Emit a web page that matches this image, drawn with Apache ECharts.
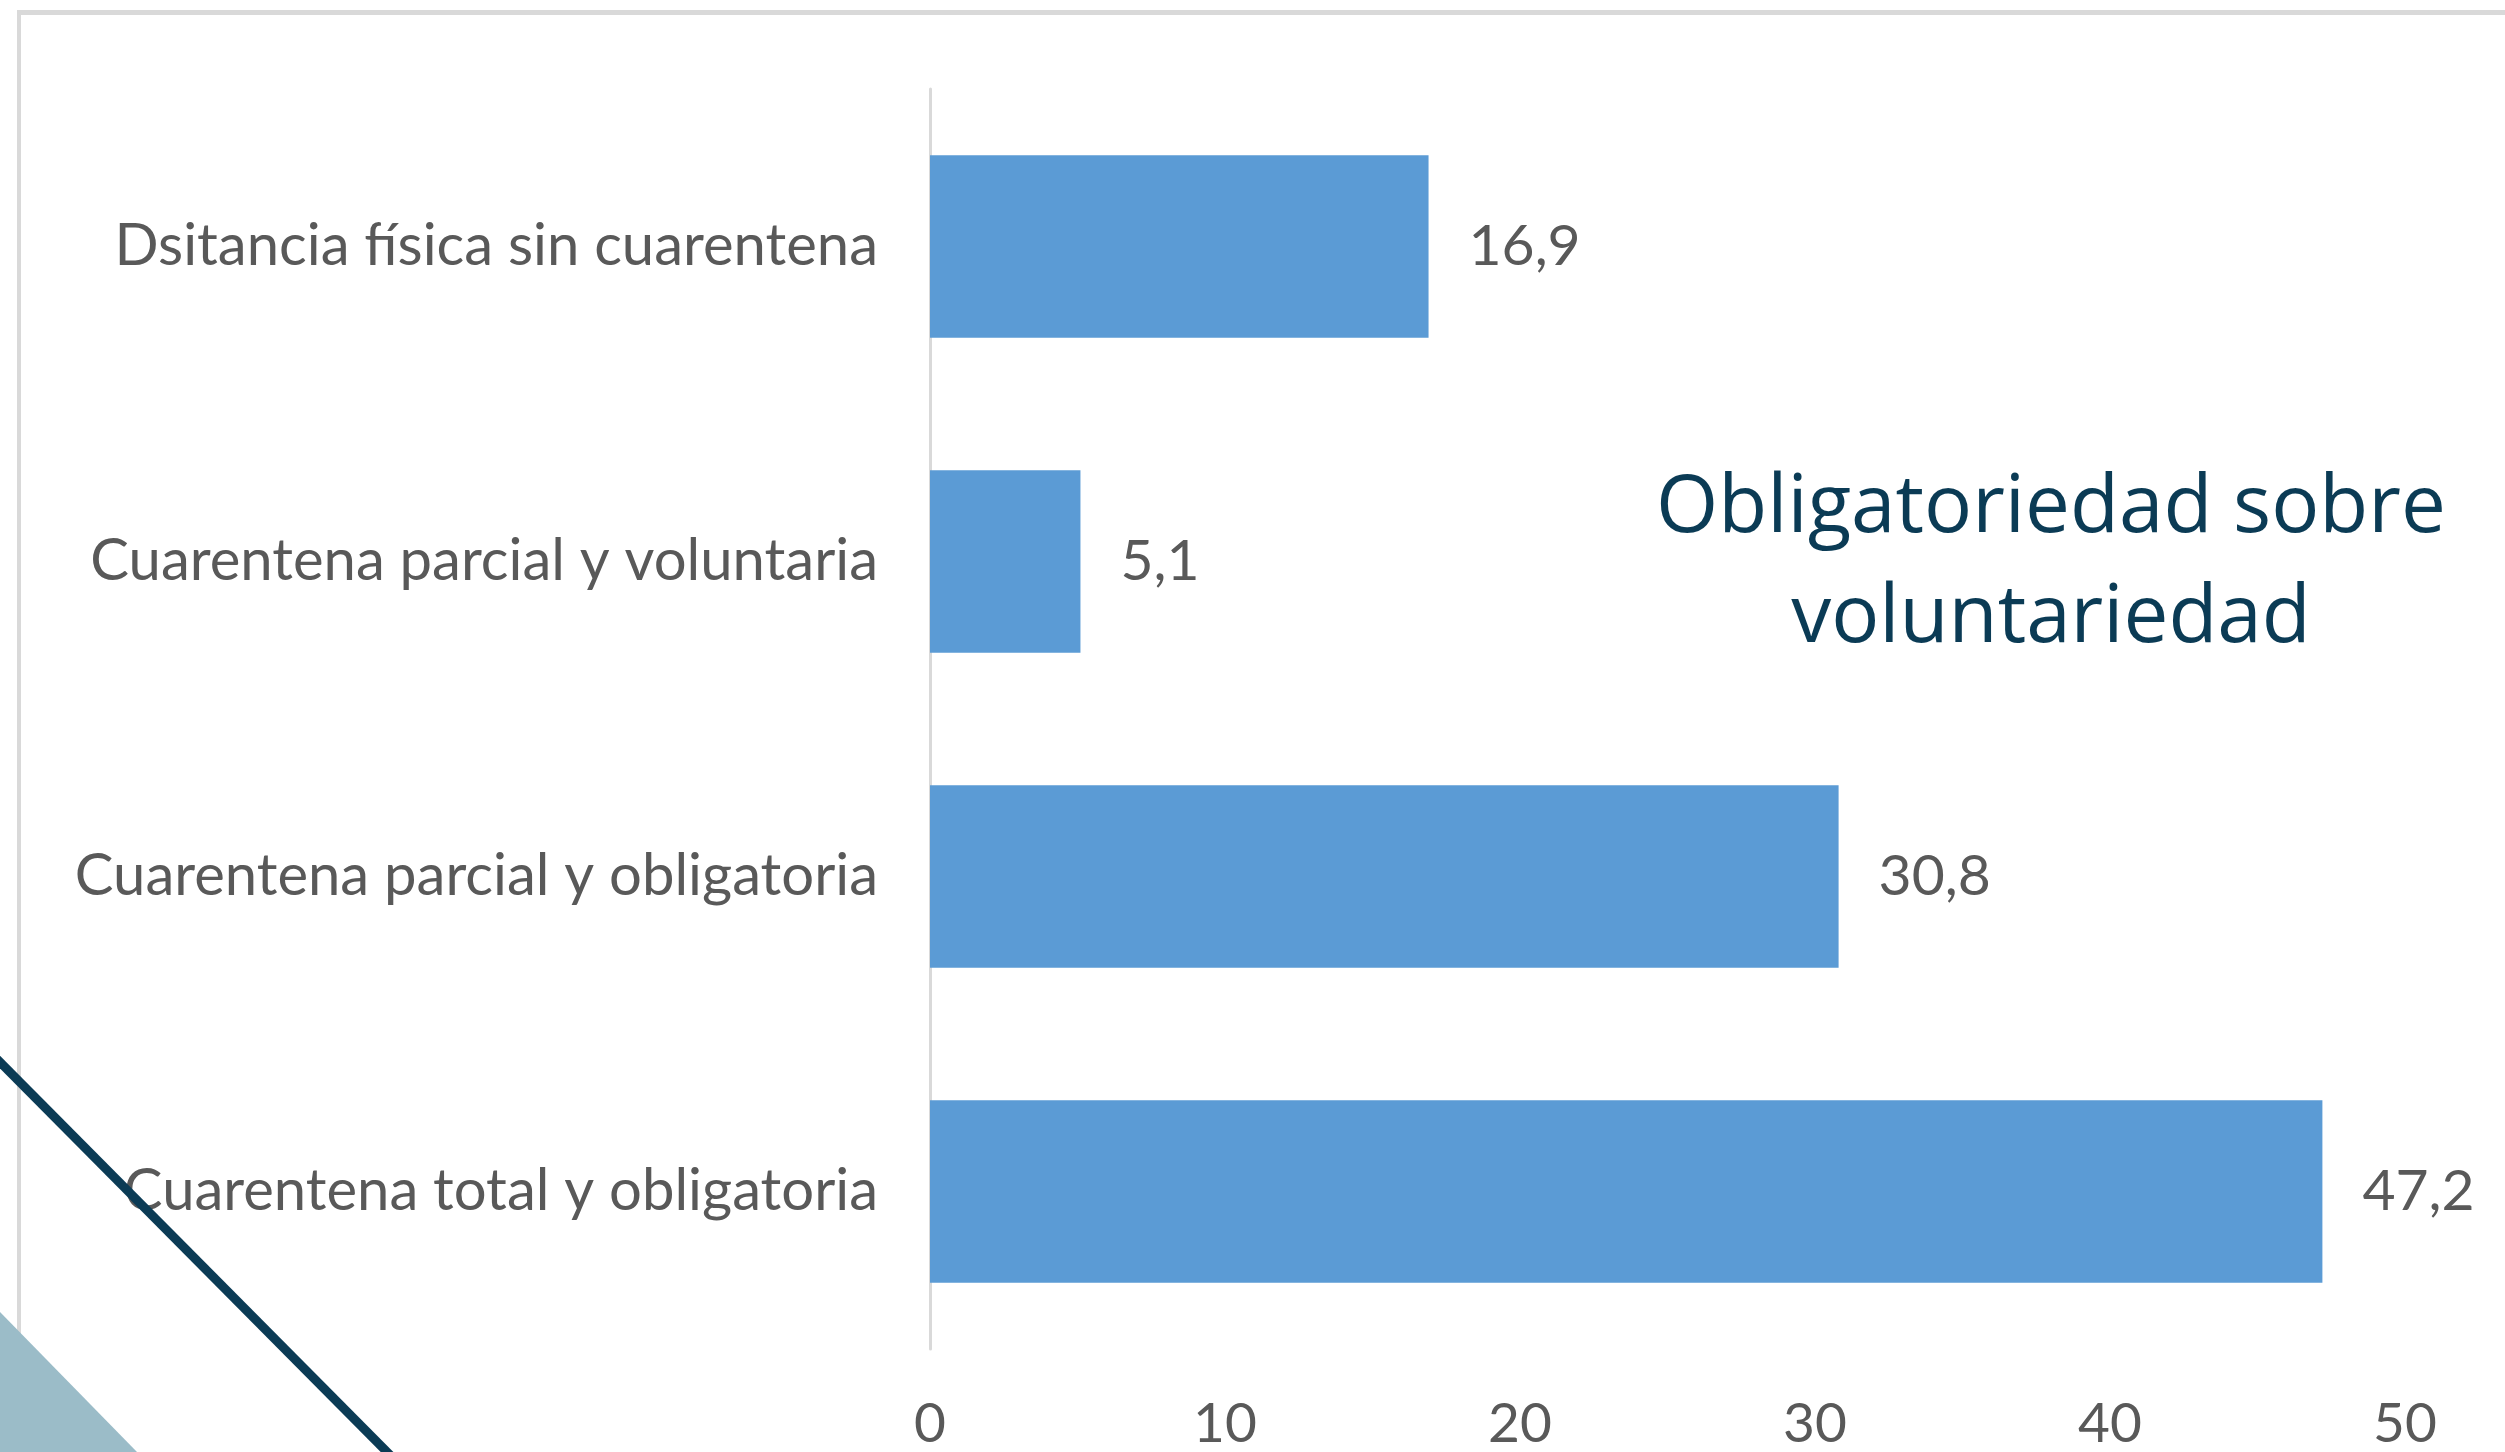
<!DOCTYPE html>
<html lang="es">
<head>
    <meta charset="UTF-8">
    <title>Obligatoriedad sobre voluntariedad</title>
    <script src="https://cdn.jsdelivr.net/npm/echarts@6/dist/echarts.min.js"></script>
    <style>
        html, body { margin: 0; padding: 0; background: #fff; }
    </style>
</head>
<body>
    <div id="main" style="width: 2505px; height: 1452px;"></div>
    <script>
    // categorias de arriba hacia abajo
    const categorias = [
        'Dsitancia física sin cuarentena',
        'Cuarentena parcial y voluntaria',
        'Cuarentena parcial y obligatoria',
        'Cuarentena total y obligatoria'
    ]
    const valores = [16.9, 5.1, 30.8, 47.2]
    const ticks = [0, 10, 20, 30, 40, 50]

    const gris = '#595959'
    const azulOscuro = '#0b3b55'

    const chart = echarts.init(document.getElementById('main'))
    const option = {
        backgroundColor: '#fff',
        animation: false,
        textStyle: { fontFamily: 'Lato' },
        grid: { left: 930, right: 100, top: 89, bottom: 102, containLabel: false },
        xAxis: {
            type: 'value',
            min: ticks[0],
            max: ticks[ticks.length - 1],
            interval: 10,
            axisLine: { show: false },
            axisTick: { show: false },
            splitLine: { show: false },
            axisLabel: { color: gris, fontSize: 55, margin: 48 }
        },
        yAxis: {
            type: 'category',
            inverse: true,
            data: categorias,
            axisLine: { show: true, lineStyle: { color: '#d9d9d9', width: 3 } },
            axisTick: { show: false },
            axisLabel: { color: gris, fontSize: 58, margin: 52 }
        },
        series: [{
            type: 'bar',
            data: valores,
            barCategoryGap: '42%',
            itemStyle: { color: '#5b9bd5' },
            label: {
                show: true,
                position: 'right',
                distance: 40,
                color: gris,
                fontSize: 57,
                formatter: function (p) {
                    return String(p.value).replace('.', ',')
                }
            }
        }],
        graphic: [
            // marco gris
            { type: 'rect', z: 1, shape: { x: 17, y: 10, width: 2488, height: 5 }, style: { fill: '#d9d9d9' } },
            { type: 'rect', z: 1, shape: { x: 17, y: 10, width: 4, height: 1442 }, style: { fill: '#d9d9d9' } },
            // triangulo inferior
            { type: 'polygon', z: 100, shape: { points: [[0, 1312], [137, 1452], [0, 1452]] }, style: { fill: '#9bbcc8' } },
            // linea diagonal
            { type: 'line', z: 100, shape: { x1: -5, y1: 1057, x2: 392, y2: 1457 }, style: { stroke: azulOscuro, lineWidth: 9 } },
            // texto
            {
                type: 'text', z: 100, x: 2051, y: 454,
                style: {
                    text: 'Obligatoriedad sobre\nvoluntariedad',
                    align: 'center',
                    verticalAlign: 'top',
                    fill: azulOscuro,
                    font: '80px "Open Sans"',
                    lineHeight: 110
                }
            }
        ]
    }
    chart.setOption(option)
    </script>
</body>
</html>
